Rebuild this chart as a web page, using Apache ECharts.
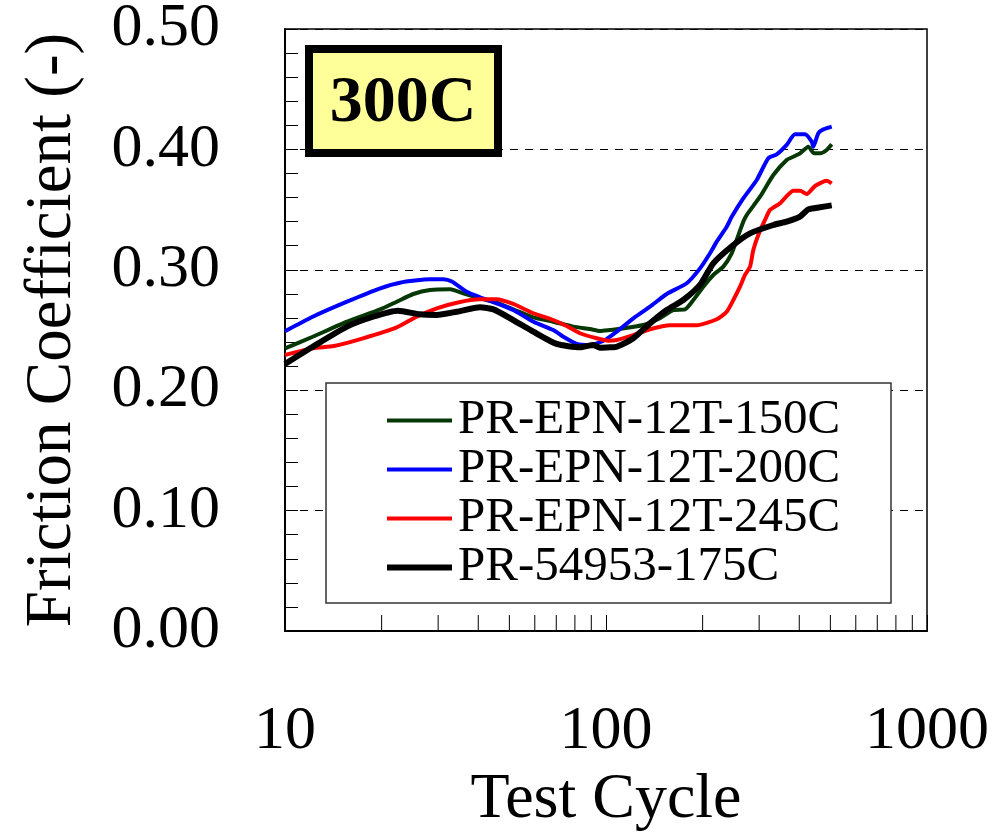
<!DOCTYPE html>
<html>
<head>
<meta charset="utf-8">
<script src="https://cdn.jsdelivr.net/npm/echarts@6/dist/echarts.min.js"></script>
<style>
html,body{margin:0;padding:0;background:#fff;}
#chart{width:998px;height:832px;}
</style>
</head>
<body>
<div id="chart"></div>
<script>
// ---- data ----
const seriesNames = ['PR-EPN-12T-150C', 'PR-EPN-12T-200C', 'PR-EPN-12T-245C', 'PR-54953-175C'];
const yTickLabels = ['0.00', '0.10', '0.20', '0.30', '0.40', '0.50'];
const xTickLabels = ['10', '100', '1000'];
const xMinorTicks = [20, 30, 40, 50, 60, 70, 80, 90, 200, 300, 400, 500, 600, 700, 800, 900];
const panelLabel = '300C';

const pr150 = [[10,0.2348],[12.2,0.2444],[15.6,0.2569],[19.8,0.2671],[22.3,0.2735],[25.1,0.2799],[28.3,0.2832],[32.7,0.2838],[35.9,0.2804],[40.5,0.2763],[45.6,0.2727],[51.4,0.2671],[59.4,0.2605],[68.5,0.2569],[79.1,0.2528],[89.2,0.2508],[95.8,0.2492],[102.9,0.25],[108,0.2506],[130.7,0.2542],[147.3,0.2597],[162.1,0.2666],[176.2,0.2671],[187.1,0.2749],[201,0.286],[215.9,0.2957],[232,0.3026],[246.4,0.3137],[255.3,0.3248],[267.7,0.34],[274.4,0.3455],[301.9,0.3607],[332.1,0.3787],[365.5,0.3912],[383.3,0.3939],[402.2,0.3967],[426.8,0.4023],[442.4,0.3973],[464.2,0.3967],[487,0.3995],[504.8,0.4042]];
const pr200 = [[10,0.249],[12.2,0.261],[15.6,0.2735],[19.8,0.2846],[22.8,0.2893],[28.3,0.2921],[31.1,0.2921],[33.1,0.2902],[36.8,0.2818],[40.5,0.2772],[45.6,0.2722],[51.4,0.2666],[59.4,0.2569],[68.5,0.25],[73.6,0.2444],[81.1,0.2384],[89.2,0.2375],[99.3,0.2417],[108,0.2486],[121.6,0.2597],[137.1,0.2694],[154.6,0.2799],[178.4,0.2888],[196.3,0.3012],[210.9,0.3137],[221.3,0.3234],[237.7,0.3358],[246.4,0.3441],[267.7,0.3593],[294.8,0.3746],[320.4,0.3926],[340.3,0.3958],[365.5,0.4037],[388,0.4125],[416.9,0.4125],[437.4,0.4064],[442.4,0.4023],[458.6,0.4134],[475.3,0.4166],[504.8,0.4189]];
const pr245 = [[10,0.2292],[12.2,0.2348],[14.2,0.2367],[17.5,0.2431],[22.3,0.2522],[25.7,0.261],[29.7,0.268],[34.3,0.2727],[40.5,0.2755],[45.6,0.2755],[51.4,0.2716],[59.4,0.2639],[68.5,0.2583],[75.4,0.2533],[83,0.2473],[93.5,0.2431],[101.7,0.2411],[108,0.2417],[121.6,0.2458],[137.1,0.2506],[158.2,0.2539],[191.7,0.2539],[221.3,0.2589],[237.7,0.2652],[249.3,0.2749],[261.5,0.286],[271,0.2957],[281,0.3026],[287.7,0.3164],[298.2,0.3289],[312.9,0.3414],[324.4,0.3497],[348.3,0.3552],[383.3,0.3657],[402.2,0.3657],[422,0.363],[447.9,0.3696],[487,0.374],[504.8,0.3718]];
const pr54953 = [[10,0.2218],[12.2,0.2361],[15.6,0.2528],[18.8,0.261],[22.5,0.266],[26.3,0.263],[29.7,0.2625],[34.3,0.2652],[40.5,0.2688],[44.6,0.2671],[51.4,0.2583],[59.4,0.2486],[70.2,0.2384],[83,0.2356],[91.3,0.2375],[95.8,0.2352],[102.9,0.2356],[108,0.2361],[121.6,0.2431],[137.1,0.2555],[154.6,0.2666],[174.1,0.2749],[196.3,0.2874],[215.9,0.3054],[249.3,0.3206],[281,0.3303],[332.1,0.3372],[365.5,0.34],[402.2,0.3441],[426.8,0.3502],[464.2,0.3519],[504.8,0.3535]];

const seriesData = [pr150, pr200, pr245, pr54953];
const seriesColors = ['#063806', '#0000ff', '#ff0000', '#000000'];
const seriesWidths = [4, 4, 4, 6];

const FONT = "'Liberation Serif', 'DejaVu Serif', serif";

const chart = echarts.init(document.getElementById('chart'), null, {renderer: 'canvas'});

const lineSeries = seriesNames.map((name, i) => ({
  name: name,
  type: 'line',
  data: seriesData[i],
  showSymbol: false,
  symbol: 'none',
  smooth: 0.2,
  z: 3 + i,
  color: seriesColors[i],
  lineStyle: {color: seriesColors[i], width: seriesWidths[i]},
  itemStyle: {color: seriesColors[i]}
}));

const minorTickSeries = {
  type: 'custom',
  silent: true,
  z: 2,
  data: xMinorTicks.map(v => [v, 0]),
  encode: {x: 0, y: 1},
  renderItem: function (params, api) {
    const p = api.coord([api.value(0), api.value(1)]);
    return {
      type: 'line',
      shape: {x1: p[0], y1: p[1], x2: p[0], y2: p[1] - 16},
      style: {stroke: '#000', lineWidth: 1}
    };
  }
};

const option = {
  animation: false,
  backgroundColor: '#fff',
  grid: {
    left: 285, right: 71, top: 29, bottom: 201,
    containLabel: false,
    outerBoundsMode: 'none',
    show: true,
    borderColor: '#000',
    borderWidth: 1.5,
    backgroundColor: 'transparent'
  },
  xAxis: {
    type: 'log',
    logBase: 10,
    min: 10,
    max: 1000,
    name: 'Test Cycle',
    nameLocation: 'middle',
    nameGap: 132,
    nameTextStyle: {fontFamily: FONT, fontSize: 64, color: '#000'},
    axisLine: {show: true, lineStyle: {color: '#000', width: 2}},
    axisTick: {show: true, inside: true, length: 16, lineStyle: {color: '#000', width: 1}},
    axisLabel: {
      fontFamily: FONT, fontSize: 62, color: '#000', margin: 70,
      showMinLabel: true, showMaxLabel: true,
      formatter: function (v) {
        const idx = Math.round(Math.log10(v)) - 1;
        return xTickLabels[idx] !== undefined ? xTickLabels[idx] : '';
      }
    },
    splitLine: {show: false},
    minorTick: {show: false}
  },
  yAxis: {
    type: 'value',
    min: 0,
    max: 0.5,
    interval: 0.1,
    name: 'Friction Coefficient (-)',
    nameLocation: 'middle',
    nameGap: 200,
    nameTextStyle: {fontFamily: FONT, fontSize: 65, color: '#000'},
    axisLine: {show: true, lineStyle: {color: '#000', width: 2}},
    axisTick: {show: true, inside: true, length: 13, lineStyle: {color: '#000', width: 1}},
    minorTick: {show: true, splitNumber: 5, length: 13, lineStyle: {color: '#000', width: 1}},
    axisLabel: {
      fontFamily: FONT, fontSize: 62, color: '#000', margin: 65,
      padding: [12, 0, 0, 0],
      showMinLabel: true, showMaxLabel: true,
      formatter: function (v) {
        const idx = Math.round(v * 10);
        return yTickLabels[idx] !== undefined ? yTickLabels[idx] : '';
      }
    },
    splitLine: {show: true, lineStyle: {color: '#000', width: 1, type: [8, 7]}}
  },
  legend: {
    data: seriesNames,
    orient: 'vertical',
    left: 384,
    top: 396,
    padding: 0,
    itemGap: 0,
    itemWidth: 65,
    itemHeight: 14,
    z: 20,
    selectedMode: false,
    itemStyle: {opacity: 0},
    lineStyle: {width: 'inherit'},
    textStyle: {fontFamily: FONT, fontSize: 49, color: '#000', lineHeight: 49, padding: [0, 0, 0, 1]}
  },
  graphic: [
    {
      type: 'rect',
      z: 15,
      shape: {x: 326, y: 383, width: 565, height: 220},
      style: {fill: '#fff', stroke: '#333', lineWidth: 1.5}
    },
    {
      type: 'rect',
      z: 15,
      shape: {x: 309, y: 49, width: 189, height: 104},
      style: {fill: '#ffff99', stroke: '#000', lineWidth: 8}
    },
    {
      type: 'text',
      z: 16,
      x: 403,
      y: 104,
      style: {
        text: panelLabel,
        font: "bold 66px 'Liberation Serif', serif",
        fill: '#000',
        align: 'center',
        verticalAlign: 'middle',
        textShadowColor: '#fff',
        textShadowOffsetX: -3,
        textShadowOffsetY: 2,
        textShadowBlur: 0
      }
    }
  ],
  series: lineSeries.concat([minorTickSeries])
};

chart.setOption(option);
</script>
</body>
</html>
